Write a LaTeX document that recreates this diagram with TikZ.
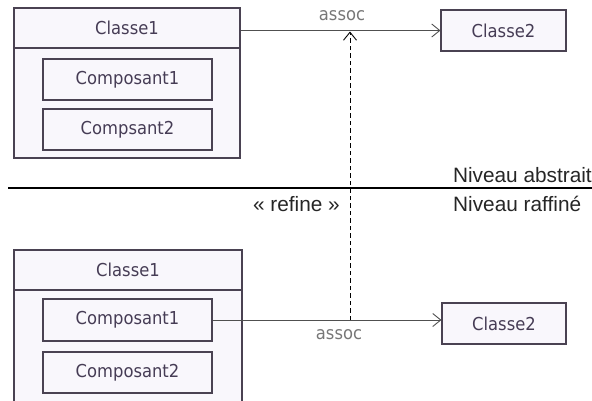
\documentclass[tikz,border=0pt]{standalone}
\usepackage{fontspec}
\setmainfont{Liberation Sans}
\newfontfamily\boxfont[FakeStretch=0.92]{DejaVu Sans}
\usetikzlibrary{arrows.meta}
\definecolor{boxline}{HTML}{4A4252}
\definecolor{boxfill}{HTML}{F9F7FC}
\definecolor{boxtext}{HTML}{463C55}
\definecolor{assocgrey}{HTML}{777777}
\definecolor{linegrey}{HTML}{505050}
\tikzset{
  umlbox/.style={draw=boxline, fill=boxfill, line width=1.1bp, inner sep=0pt,
    text=boxtext, font=\boxfont\fontsize{17.8bp}{20bp}\selectfont},
  assoclabel/.style={text=assocgrey, font=\boxfont\fontsize{17.8bp}{20bp}\selectfont, inner sep=0pt},
  assocline/.style={draw=linegrey, line width=0.9bp, -{Straight Barb[length=8bp,width=13bp]}},
  refineline/.style={draw=black, line width=0.9bp, dash pattern=on 4.5bp off 3bp,
    -{Straight Barb[length=8bp,width=13bp]}},
  leveltext/.style={font=\fontsize{20.8bp}{24bp}\selectfont, inner sep=0pt, text=black!85}
}
\begin{document}
\begin{tikzpicture}[x=1bp,y=-1bp]
\useasboundingbox (0,0) rectangle (592,400);
\clip (0,0) rectangle (592,400);
% top level
\node[umlbox, minimum width=226bp, minimum height=150bp] (c1) at (127,83) {};
\node[umlbox, minimum width=226bp, minimum height=40bp] (c1h) at (127,28) {Classe1};
\node[umlbox, minimum width=169bp, minimum height=41bp] (p1) at (127.5,79.5) {Composant1};
\node[umlbox, minimum width=169bp, minimum height=41bp] (p2) at (127.5,129.5) {Compsant2};
\node[umlbox, minimum width=125bp, minimum height=41bp] (k2) at (503.5,30.5) {Classe2};
\draw[assocline] (c1h.east |- k2.west) -- (k2.west);
\node[assoclabel] (a1) at (342,16) {assoc};
% bottom level
\node[umlbox, minimum width=228bp, minimum height=160bp] (d1) at (128,330) {};
\node[umlbox, minimum width=228bp, minimum height=40bp] (d1h) at (128,270) {Classe1};
\node[umlbox, minimum width=169bp, minimum height=42bp] (q1) at (127.5,320) {Composant1};
\node[umlbox, minimum width=169bp, minimum height=41bp] (q2) at (127.5,372.5) {Composant2};
\node[umlbox, minimum width=124bp, minimum height=41bp] (m2) at (504,323.5) {Classe2};
\draw[assocline] (q1.east) -- (m2.west |- q1.east);
\node[assoclabel] (a2) at (339,335) {assoc};
% refinement
\coordinate (dlow) at (350,320);
\coordinate (dtop) at (350,31.5);
\draw[refineline] (dlow) -- (dtop);
\node[leveltext, anchor=base east] (ref) at (340,211) {« refine »};
% separator
\coordinate (sepl) at (8,188);
\coordinate (sepr) at (592,188);
\draw[line width=2.5bp, black] (sepl) -- (sepr);
\node[leveltext, anchor=base east] (na) at (592,182) {Niveau abstrait};
\node[leveltext, anchor=base west] (nr) at (453,211) {Niveau raffiné};
\end{tikzpicture}
\end{document}
